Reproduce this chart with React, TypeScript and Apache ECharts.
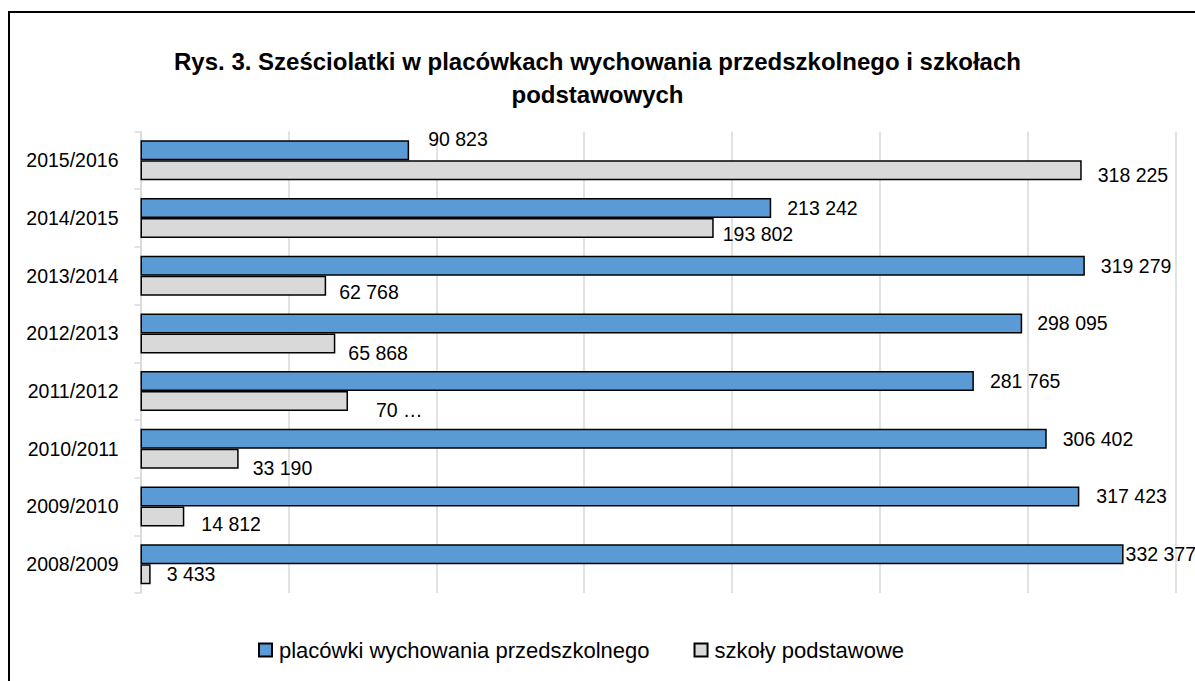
import React, { useEffect, useRef } from "react";
import * as echarts from "echarts";

const categories = ["2015/2016", "2014/2015", "2013/2014", "2012/2013", "2011/2012", "2010/2011", "2009/2010", "2008/2009"];
const preschool = [90823, 213242, 319279, 298095, 281765, 306402, 317423, 332377];
const primary = [318225, 193802, 62768, 65868, 70160, 33190, 14812, 3433];
const seriesNames = ["placówki wychowania przedszkolnego", "szkoły podstawowe"];
const primaryLabelOverride: Record<string, string> = { "2011/2012": "70 …" };
const xTicks = [0, 50000, 100000, 150000, 200000, 250000, 300000, 350000];

// label placement tweaks (style only)
const blueLabelOffsets = [[19, -11], [16, 0], [16, 0], [15, 0], [16, 0], [16, 0], [17, 0], [2, 0]];
const grayLabelOffsets = [[16, 5], [9, 6], [13, 6], [13, 10], [28, 9], [14, 9], [17, 8], [16, 0]];

const FONT = "'Liberation Sans', Arial, sans-serif";

const fmt = (v: number) => String(v).replace(/\B(?=(\d{3})+(?!\d))/g, " ");

export default function App() {
  const ref = useRef<HTMLDivElement>(null);
  useEffect(() => {
    document.body.style.margin = "0";
    const chart = echarts.init(ref.current!, null, { renderer: "svg" });
    const labelBase = { show: true, position: "right", distance: 0, fontFamily: FONT, fontSize: 19.5, color: "#000" };
    chart.setOption({
      animation: false,
      backgroundColor: "#fff",
      title: {
        text: "Rys. 3. Sześciolatki w placówkach wychowania przedszkolnego i szkołach\npodstawowych",
        left: "center",
        top: 40,
        textStyle: { fontFamily: FONT, fontWeight: "bold", fontSize: 24, lineHeight: 33, color: "#000" },
      },
      graphic: [
        { type: "rect", shape: { x: 9, y: 12, width: 1250, height: 720 }, style: { fill: "none", stroke: "#000", lineWidth: 2 }, silent: true },
      ],
      legend: {
        data: seriesNames,
        bottom: 15,
        left: 253,
        icon: "rect",
        itemWidth: 13,
        itemHeight: 13,
        itemGap: 44,
        textStyle: { fontFamily: FONT, fontSize: 22, color: "#000", padding: [0, 0, 0, 2] },
      },
      grid: { left: 140.5, right: 19.3, top: 131.5, bottom: 88, containLabel: false },
      xAxis: {
        type: "value",
        min: xTicks[0],
        max: xTicks[xTicks.length - 1],
        interval: xTicks[1] - xTicks[0],
        axisLabel: { show: false },
        axisLine: { show: false },
        axisTick: { show: false },
        splitLine: { show: true, lineStyle: { color: "#d9d9d9", width: 1.5 } },
      },
      yAxis: {
        type: "category",
        data: categories,
        inverse: true,
        axisLine: { show: true, lineStyle: { color: "#d9d9d9", width: 1.5 } },
        axisTick: { show: true, length: 6, lineStyle: { color: "#d9d9d9", width: 1.5 } },
        axisLabel: { fontFamily: FONT, fontSize: 19.5, color: "#000", margin: 22 },
      },
      series: [
        {
          name: seriesNames[0],
          type: "bar",
          barWidth: 20,
          barGap: "0%",
          itemStyle: { color: "#5B9BD5", borderColor: "#000", borderWidth: 1.5 },
          data: preschool.map((v, i) => ({
            value: v,
            label: { ...labelBase, offset: blueLabelOffsets[i], formatter: () => fmt(v) },
          })),
        },
        {
          name: seriesNames[1],
          type: "bar",
          barWidth: 20,
          barGap: "0%",
          itemStyle: { color: "#D9D9D9", borderColor: "#000", borderWidth: 1.5 },
          data: primary.map((v, i) => ({
            value: v,
            label: {
              ...labelBase,
              offset: grayLabelOffsets[i],
              formatter: () => primaryLabelOverride[categories[i]] ?? fmt(v),
            },
          })),
        },
      ],
    });
    return () => chart.dispose();
  }, []);
  return <div ref={ref} style={{ position: "absolute", left: 0, top: 0, width: 1195, height: 681 }} />;
}
